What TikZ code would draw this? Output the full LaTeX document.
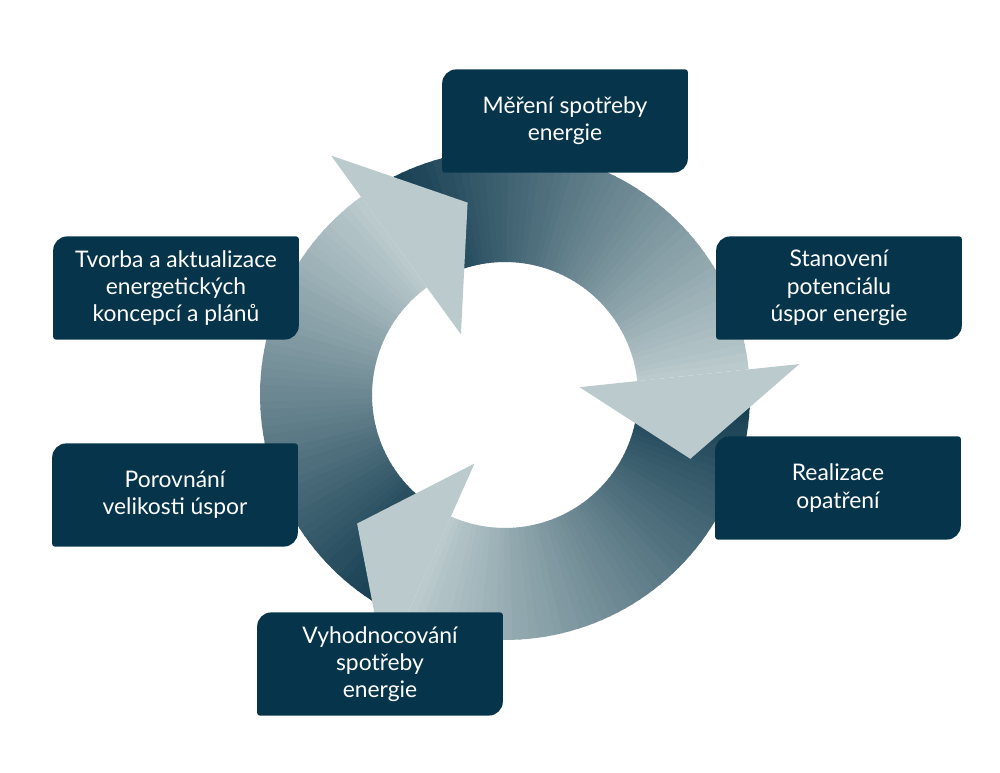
\documentclass[tikz,border=0pt]{standalone}
\usepackage{fontspec}
\setmainfont{Lato}
\usetikzlibrary{positioning, calc, backgrounds}
\definecolor{boxblue}{HTML}{06344A}
\definecolor{ringdark}{HTML}{0E384C}
\definecolor{ringlight}{HTML}{BACACD}

\begin{document}
\begin{tikzpicture}[x=0.02cm, y=-0.02cm,
    stage/.style={minimum width=4.9cm, minimum height=2.05cm, align=center, text=white,
        font=\fontsize{13}{15.5}\selectfont, inner sep=0pt},
    leaf/.style={fill=boxblue}
]
\useasboundingbox (0,0) rectangle (1000,773);

% Stages
\node[stage] (mereni) at (565,121) {Měření spotřeby\\energie};
\node[stage] (stanoveni) at (839,288) {Stanovení\\potenciálu\\úspor energie};
\node[stage] (realizace) at (838,488) {Realizace\\opatření};
\node[stage] (vyhodnoceni) at (380,664) {Vyhodnocování\\spotřeby\\energie};
\node[stage] (porovnani) at (175,495) {Porovnání\\velikosti úspor};
\node[stage] (tvorba) at (176,288) {Tvorba a aktualizace\\energetických\\koncepcí a plánů};

\begin{scope}[on background layer]
% Ring arrows: bodies as thin slices, then heads
\foreach \k in {0,1,2} {
    \pgfmathsetmacro{\base}{6+120*\k}
    \foreach \i in {0,...,59} {
        \pgfmathsetmacro{\aa}{\base+119-\i*119/60}
        \pgfmathsetmacro{\ab}{max(\base,\base+119-(\i+1)*119/60-0.4)}
        \pgfmathtruncatemacro{\pc}{\i*100/59}
        \colorlet{slicecol}{ringlight!\pc!ringdark}
        \fill[slicecol] ({505+245*cos(\aa)},{395-245*sin(\aa)}) -- ({505+245*cos(\ab)},{395-245*sin(\ab)})
            -- ({505+133*cos(\ab)},{395-133*sin(\ab)}) -- ({505+133*cos(\aa)},{395-133*sin(\aa)}) -- cycle;
    }
}
\foreach \k in {0,1,2} {
    \pgfmathsetmacro{\base}{6+120*\k}
    \pgfmathsetmacro{\tip}{\base-25}
    \fill[ringlight] ({505+75*cos(\base)},{395-75*sin(\base)}) -- ({505+296*cos(\base)},{395-296*sin(\base)})
        -- ({505+196*cos(\tip)},{395-196*sin(\tip)}) -- cycle;
}
% Box shapes
\foreach \n in {mereni,stanoveni,realizace,vyhodnoceni,porovnani,tvorba} {
    \fill[leaf] (\n.north) [rounded corners=1.5pt] -- (\n.north east)
        [rounded corners=8pt] -- (\n.south east)
        [rounded corners=1.5pt] -- (\n.south west)
        [rounded corners=8pt] -- (\n.north west) [sharp corners] -- cycle;
}
\end{scope}

\end{tikzpicture}
\end{document}
